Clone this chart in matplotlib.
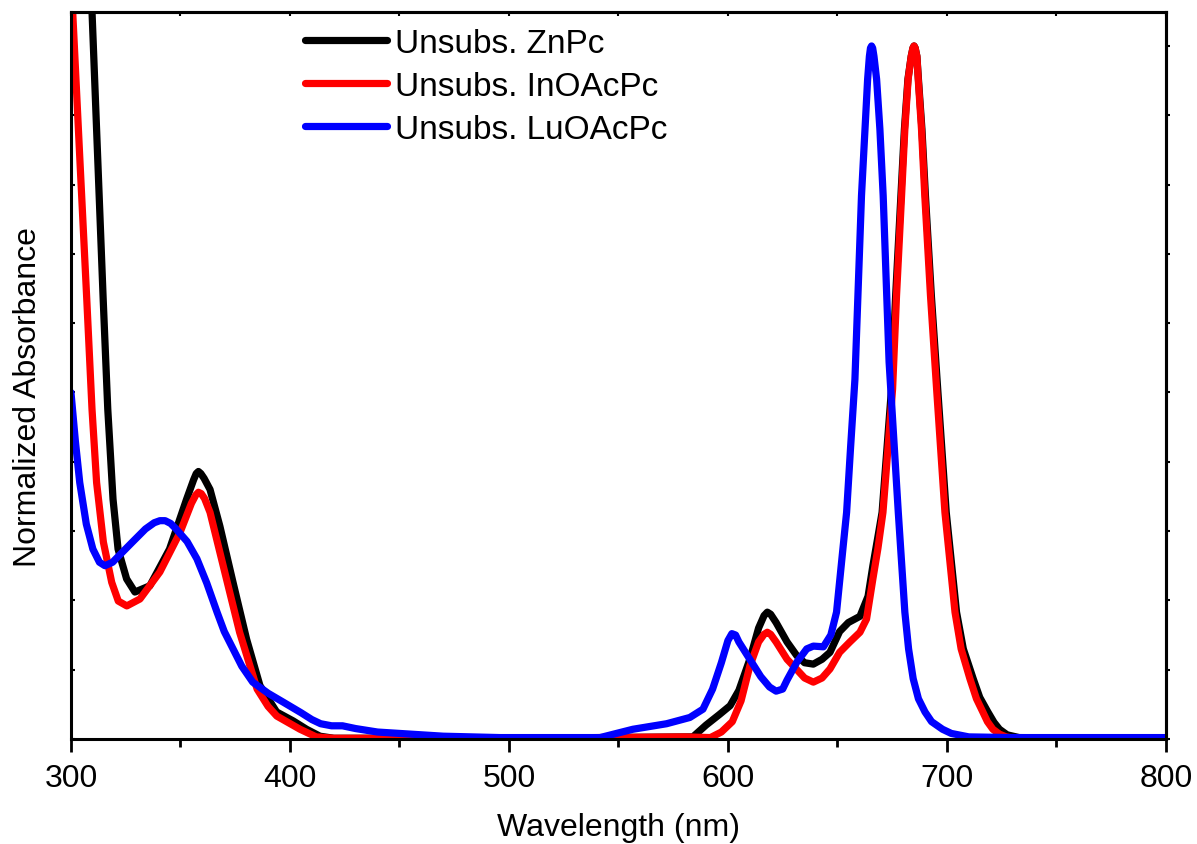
"""UV-vis spectra of unsubstituted phthalocyanines (normalized absorbance)."""

import matplotlib

matplotlib.use("Agg")
import matplotlib.pyplot as plt
from matplotlib.ticker import MultipleLocator

plt.rcParams["font.family"] = ["Liberation Sans", "DejaVu Sans"]

# values (wavelength in nm, normalized absorbance)
zn_wl = [308, 309.6, 314.7, 316.8, 319.2, 321.5, 325.4, 329.2, 336, 345, 352.8,
         356, 357.2, 358.2, 359.3, 360.8, 363.5, 368, 374, 380.2, 386.3, 393.9,
         401.5, 407.6, 413.7, 420, 500, 584, 590, 596, 601, 605, 610, 614,
         616.5, 618, 619.5, 622, 627, 631.5, 635, 639, 643, 646.6, 651, 655,
         660.3, 664, 666.2, 668.4, 670.4, 674.7, 676.6, 679, 680.6, 682.2,
         683.7, 684.5, 685, 685.5, 686.3, 687, 688.6, 690.2, 692.9, 695.8,
         699.7, 704.4, 707.5, 712, 715, 718.7, 721.5, 724, 727.5, 733, 800]
zn_abs = [1.18, 1.05, 0.635, 0.476, 0.346, 0.274, 0.231, 0.212, 0.221, 0.274,
          0.346, 0.374, 0.383, 0.386, 0.383, 0.376, 0.36, 0.307, 0.226, 0.144,
          0.077, 0.039, 0.026, 0.014, 0.004, 0.001, 0.001, 0.003, 0.02, 0.035,
          0.048, 0.07, 0.115, 0.16, 0.178, 0.183, 0.18, 0.168, 0.14, 0.12,
          0.11, 0.108, 0.115, 0.125, 0.155, 0.168, 0.177, 0.206, 0.25, 0.29,
          0.327, 0.505, 0.64, 0.784, 0.88, 0.952, 0.985, 0.997, 1.0, 0.997,
          0.985, 0.952, 0.88, 0.784, 0.64, 0.505, 0.327, 0.183, 0.13, 0.087,
          0.06, 0.039, 0.024, 0.014, 0.006, 0.002, 0.001]

in_wl = [300, 304, 307.2, 309.6, 311.7, 314.8, 318.6, 321.6, 325.5, 331.5,
         340.6, 349.8, 355, 357, 358.2, 359.5, 361, 363.5, 369.5, 377, 385,
         390, 394, 404.6, 412, 420, 500, 580, 592, 597, 602, 606, 610, 614,
         616.5, 618, 619.5, 622, 627, 631.5, 635, 639, 643, 646.6, 651, 655.7,
         660.3, 663.3, 666.2, 668.5, 670.8, 675.2, 677, 679.3, 680.8, 682.3,
         683.7, 684.5, 685, 685.5, 686.3, 686.9, 688.4, 689.9, 692.5, 695.3,
         699.1, 703.7, 706.5, 710.5, 713.5, 716.4, 718.5, 721, 724, 727, 731,
         800]
in_abs = [1.10, 0.84, 0.635, 0.476, 0.37, 0.284, 0.226, 0.199, 0.192, 0.202,
          0.241, 0.298, 0.34, 0.352, 0.356, 0.354, 0.347, 0.327, 0.25, 0.154,
          0.072, 0.047, 0.033, 0.014, 0.003, 0.001, 0.001, 0.003, 0.002, 0.01,
          0.025, 0.055, 0.105, 0.14, 0.151, 0.154, 0.151, 0.14, 0.115, 0.1,
          0.088, 0.082, 0.088, 0.101, 0.125, 0.14, 0.154, 0.173, 0.231, 0.275,
          0.327, 0.505, 0.64, 0.784, 0.88, 0.952, 0.985, 0.997, 1.0, 0.997,
          0.985, 0.952, 0.88, 0.784, 0.64, 0.505, 0.327, 0.183, 0.13, 0.087,
          0.058, 0.039, 0.025, 0.014, 0.007, 0.003, 0.001, 0.001]

lu_wl = [300, 302, 304, 307, 310, 313, 315.5, 319, 323, 328, 334, 338, 340.6,
         343, 345.5, 348, 353, 357.5, 362, 366.7, 370, 374, 378, 383, 390, 397,
         405, 410, 414, 419, 424, 430, 440, 450, 470, 496, 541.6, 556.6, 572,
         582.6, 588.6, 593, 597, 600, 601.8, 603.5, 605, 610, 615, 619, 622,
         625, 627, 631.5, 636, 639, 643.6, 647, 649.6, 652.5, 654.2, 656, 658,
         661, 662.6, 663.8, 664.6, 665.1, 665.6, 666.1, 666.7, 667.9, 669.4,
         670.9, 673.6, 677.8, 680.8, 682.5, 684.6, 687, 690, 693, 698, 702,
         710, 730, 800]
lu_abs = [0.50, 0.43, 0.37, 0.31, 0.274, 0.255, 0.25, 0.255, 0.268, 0.284,
          0.303, 0.312, 0.315, 0.315, 0.311, 0.303, 0.285, 0.26, 0.225, 0.183,
          0.155, 0.13, 0.105, 0.082, 0.066, 0.053, 0.038, 0.028, 0.022, 0.019,
          0.019, 0.015, 0.01, 0.008, 0.004, 0.002, 0.002, 0.014, 0.022, 0.031,
          0.043, 0.072, 0.11, 0.142, 0.152, 0.15, 0.14, 0.115, 0.09, 0.075,
          0.069, 0.072, 0.085, 0.111, 0.13, 0.134, 0.133, 0.15, 0.183, 0.274,
          0.327, 0.42, 0.519, 0.784, 0.88, 0.952, 0.985, 0.997, 1.0, 0.997,
          0.985, 0.952, 0.88, 0.784, 0.544, 0.327, 0.183, 0.13, 0.087, 0.058,
          0.039, 0.025, 0.014, 0.008, 0.003, 0.002, 0.002]

labels = ["Unsubs. ZnPc", "Unsubs. InOAcPc", "Unsubs. LuOAcPc"]
colors = ["#000000", "#ff0000", "#0000ff"]

fig = plt.figure(figsize=(11.97, 8.45), dpi=100)
ax = fig.add_axes([0.0593, 0.1243, 0.9147, 0.8603])

for wl, ab, lab, col in zip([zn_wl, in_wl, lu_wl], [zn_abs, in_abs, lu_abs],
                            labels, colors):
    ax.plot(wl, ab, color=col, lw=5.2, label=lab, solid_joinstyle="round",
            solid_capstyle="round")

ax.set_xlim(300, 800)
ax.set_ylim(0, 1.049)
ax.xaxis.set_major_locator(MultipleLocator(100))
ax.xaxis.set_minor_locator(MultipleLocator(50))
ax.yaxis.set_major_locator(MultipleLocator(0.1))
ax.set_yticklabels([])

for sp in ax.spines.values():
    sp.set_linewidth(2.2)

ax.tick_params(axis="x", which="major", direction="out", length=9, width=2,
               labelsize=23, pad=8)
ax.tick_params(axis="x", which="minor", direction="out", length=6, width=2)
ax.tick_params(axis="y", which="major", direction="in", length=3, width=1.5)

# small ticks on the top and right frame
top = ax.secondary_xaxis("top")
top.xaxis.set_major_locator(MultipleLocator(50))
top.tick_params(direction="in", length=3, width=1.5, labeltop=False)
right = ax.secondary_yaxis("right")
right.yaxis.set_major_locator(MultipleLocator(0.1))
right.tick_params(direction="out", length=3, width=1.5, labelright=False)
for s in (top, right):
    for sp in s.spines.values():
        sp.set_linewidth(2.2)

ax.set_xlabel("Wavelength (nm)", fontsize=23, labelpad=14)
ax.set_ylabel("Normalized Absorbance", fontsize=23, labelpad=12)
ax.yaxis.set_label_coords(-0.026, 0.472)

ax.legend(loc="upper left", bbox_to_anchor=(0.214, 0.978), frameon=False,
          fontsize=24, handlelength=2.45, handletextpad=0.25, labelspacing=0.36,
          borderpad=0, borderaxespad=0)

fig.savefig("out.png", dpi=100)
